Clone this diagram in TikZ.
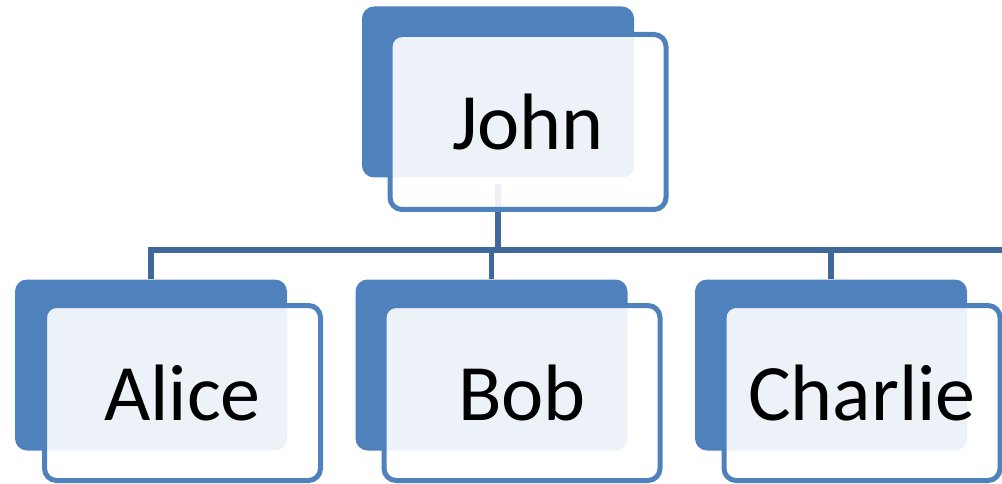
\documentclass[tikz,border=0pt]{standalone}
\usepackage{fontspec}
\setmainfont{Carlito}
\definecolor{darkblue}{RGB}{79,129,189}
\definecolor{linkblue}{RGB}{64,104,155}
\tikzset{
  x=1pt, y=-1pt,
  backbox/.style={draw=none, fill=darkblue, rounded corners=12pt, minimum width=272pt, minimum height=171pt, inner sep=0pt},
  frontbox/.style={draw=darkblue, line width=5pt, fill=white, fill opacity=0.9, text opacity=1, rounded corners=12pt, minimum width=276pt, minimum height=175pt, inner sep=0pt, font=\fontsize{80}{96}\selectfont},
  link/.style={draw=linkblue, line width=5.5pt}
}
\begin{document}
\begin{tikzpicture}
\useasboundingbox (0,0) rectangle (1002,484);
% back boxes
\node[backbox] (jd) at (498,92) {};
\node[backbox] (ad) at (151,365) {};
\node[backbox] (bd) at (491.5,365) {};
\node[backbox] (cd) at (831,365) {};
% connectors
\coordinate (busL) at (150,250);
\coordinate (busR) at (1004,250);
\draw[link] (ad.north) |- (busR);
\draw[link, shorten <=6pt] (jd.south) -- (jd.south |- busL);
\draw[link] (bd.north) -- (bd.north |- busL);
\draw[link] (cd.north) -- (cd.north |- busL);
% front boxes
\node[frontbox] (j) at (528,122) {John};
\node[frontbox] (a) at (182.5,393) {Alice};
\node[frontbox] (b) at (522,393) {Bob};
\node[frontbox] (c) at (862,393) {Charlie};
\end{tikzpicture}
\end{document}
